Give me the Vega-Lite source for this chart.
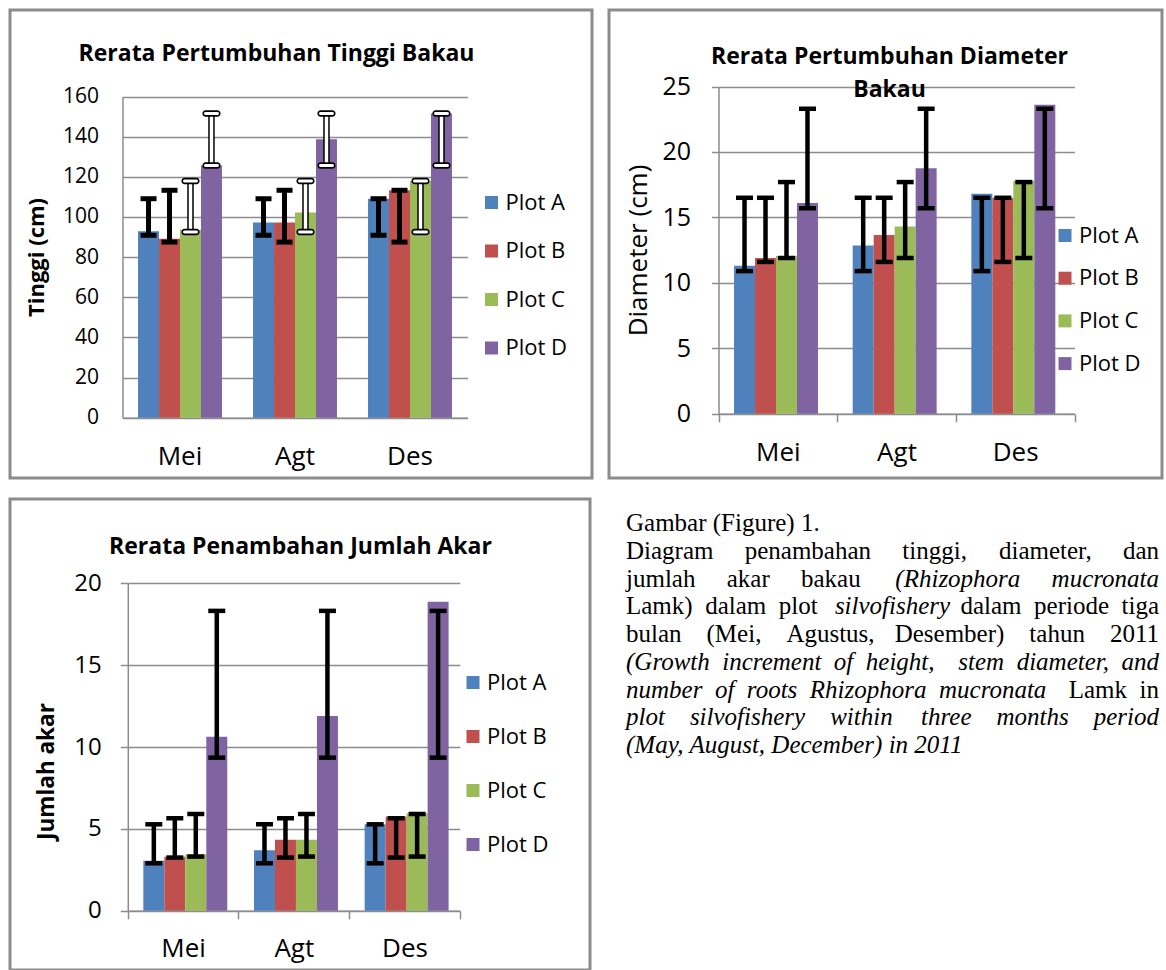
{
  "$schema": "https://vega.github.io/schema/vega-lite/v6.json",
  "background": "white",
  "padding": {"left": 8, "top": 8, "right": 0, "bottom": 0},
  "config": {
    "font": "Open Sans",
    "view": {"stroke": "#8c8c8c", "strokeWidth": 3},
    "axis": {"labelColor": "#000000", "titleColor": "#000000", "domainColor": "#8c8c8c", "gridColor": "#8c8c8c", "tickColor": "#8c8c8c", "domainWidth": 1.5, "gridWidth": 1.5, "tickWidth": 1.5, "labelFont": "Open Sans", "titleFont": "Open Sans"},
    "legend": {"labelColor": "#000000", "labelFont": "Open Sans"},
    "title": {"color": "#000000", "font": "Open Sans"}
  },
  "datasets": {
    "tinggi": [
      {"month": "Mei", "plot": "Plot A", "value": 92.9, "lo": 90.9, "hi": 109.1},
      {"month": "Mei", "plot": "Plot B", "value": 89.2, "lo": 87.5, "hi": 113.3},
      {"month": "Mei", "plot": "Plot C", "value": 93.7, "lo": 92.5, "hi": 117.9},
      {"month": "Mei", "plot": "Plot D", "value": 125.7, "lo": 125.7, "hi": 151.5},
      {"month": "Agt", "plot": "Plot A", "value": 97.2, "lo": 90.9, "hi": 109.1},
      {"month": "Agt", "plot": "Plot B", "value": 97.2, "lo": 87.5, "hi": 113.3},
      {"month": "Agt", "plot": "Plot C", "value": 102.2, "lo": 92.5, "hi": 117.9},
      {"month": "Agt", "plot": "Plot D", "value": 138.7, "lo": 125.7, "hi": 151.5},
      {"month": "Des", "plot": "Plot A", "value": 109.1, "lo": 90.9, "hi": 109.1},
      {"month": "Des", "plot": "Plot B", "value": 113.3, "lo": 87.5, "hi": 113.3},
      {"month": "Des", "plot": "Plot C", "value": 117.9, "lo": 92.5, "hi": 117.9},
      {"month": "Des", "plot": "Plot D", "value": 151.5, "lo": 125.7, "hi": 151.5}
    ],
    "diameter": [
      {"month": "Mei", "plot": "Plot A", "value": 11.3, "lo": 10.9, "hi": 16.5},
      {"month": "Mei", "plot": "Plot B", "value": 11.9, "lo": 11.6, "hi": 16.5},
      {"month": "Mei", "plot": "Plot C", "value": 12.05, "lo": 11.9, "hi": 17.7},
      {"month": "Mei", "plot": "Plot D", "value": 16.1, "lo": 15.7, "hi": 23.3},
      {"month": "Agt", "plot": "Plot A", "value": 12.85, "lo": 10.9, "hi": 16.5},
      {"month": "Agt", "plot": "Plot B", "value": 13.65, "lo": 11.6, "hi": 16.5},
      {"month": "Agt", "plot": "Plot C", "value": 14.3, "lo": 11.9, "hi": 17.7},
      {"month": "Agt", "plot": "Plot D", "value": 18.75, "lo": 15.7, "hi": 23.3},
      {"month": "Des", "plot": "Plot A", "value": 16.8, "lo": 10.9, "hi": 16.5},
      {"month": "Des", "plot": "Plot B", "value": 16.5, "lo": 11.6, "hi": 16.5},
      {"month": "Des", "plot": "Plot C", "value": 17.8, "lo": 11.9, "hi": 17.7},
      {"month": "Des", "plot": "Plot D", "value": 23.6, "lo": 15.7, "hi": 23.3}
    ],
    "akar": [
      {"month": "Mei", "plot": "Plot A", "value": 3.05, "lo": 2.9, "hi": 5.28},
      {"month": "Mei", "plot": "Plot B", "value": 3.3, "lo": 3.25, "hi": 5.65},
      {"month": "Mei", "plot": "Plot C", "value": 3.46, "lo": 3.31, "hi": 5.91},
      {"month": "Mei", "plot": "Plot D", "value": 10.63, "lo": 9.35, "hi": 18.31},
      {"month": "Agt", "plot": "Plot A", "value": 3.7, "lo": 2.9, "hi": 5.28},
      {"month": "Agt", "plot": "Plot B", "value": 4.33, "lo": 3.25, "hi": 5.65},
      {"month": "Agt", "plot": "Plot C", "value": 4.33, "lo": 3.31, "hi": 5.91},
      {"month": "Agt", "plot": "Plot D", "value": 11.9, "lo": 9.35, "hi": 18.31},
      {"month": "Des", "plot": "Plot A", "value": 5.28, "lo": 2.9, "hi": 5.28},
      {"month": "Des", "plot": "Plot B", "value": 5.75, "lo": 3.25, "hi": 5.65},
      {"month": "Des", "plot": "Plot C", "value": 5.95, "lo": 3.31, "hi": 5.91},
      {"month": "Des", "plot": "Plot D", "value": 18.86, "lo": 9.35, "hi": 18.31}
    ],
    "caption": [
      {"line": 1, "seg": "start", "lang": "id", "text": "Gambar (Figure) 1."},
      {"line": 2, "seg": "start", "lang": "id", "text": "Diagram\u00a0\u00a0\u00a0\u00a0\u00a0penambahan\u00a0\u00a0\u00a0\u00a0\u00a0tinggi,"},
      {"line": 2, "seg": "end", "lang": "id", "text": "diameter,\u00a0\u00a0\u00a0\u00a0\u00a0dan"},
      {"line": 3, "seg": "start", "lang": "id", "text": "jumlah\u00a0\u00a0\u00a0\u00a0\u00a0akar\u00a0\u00a0\u00a0\u00a0\u00a0bakau"},
      {"line": 3, "seg": "end", "lang": "la", "text": "(Rhizophora\u00a0\u00a0\u00a0\u00a0\u00a0mucronata"},
      {"line": 4, "seg": "start", "lang": "id", "text": "Lamk)\u00a0\u00a0dalam\u00a0\u00a0plot"},
      {"line": 4, "seg": "middle", "lang": "en", "text": "silvofishery"},
      {"line": 4, "seg": "end", "lang": "id", "text": "dalam\u00a0\u00a0periode\u00a0\u00a0tiga"},
      {"line": 5, "seg": "start", "lang": "id", "text": "bulan\u00a0\u00a0\u00a0\u00a0(Mei,\u00a0\u00a0\u00a0\u00a0Agustus,"},
      {"line": 5, "seg": "end", "lang": "id", "text": "Desember)\u00a0\u00a0\u00a0\u00a0tahun\u00a0\u00a0\u00a0\u00a02011"},
      {"line": 6, "seg": "start", "lang": "en", "text": "(Growth\u00a0\u00a0increment\u00a0\u00a0of\u00a0\u00a0height,"},
      {"line": 6, "seg": "end", "lang": "en", "text": "stem\u00a0\u00a0diameter,\u00a0\u00a0and"},
      {"line": 7, "seg": "start", "lang": "en", "text": "number\u00a0\u00a0of\u00a0\u00a0roots\u00a0\u00a0Rhizophora\u00a0\u00a0mucronata"},
      {"line": 7, "seg": "end", "lang": "auth", "text": "Lamk\u00a0\u00a0in"},
      {"line": 8, "seg": "start", "lang": "en", "text": "plot\u00a0\u00a0\u00a0\u00a0silvofishery\u00a0\u00a0\u00a0\u00a0within"},
      {"line": 8, "seg": "end", "lang": "en", "text": "three\u00a0\u00a0\u00a0\u00a0months\u00a0\u00a0\u00a0\u00a0period"},
      {"line": 9, "seg": "start", "lang": "en", "text": "(May, August, December) in 2011"}
    ]
  },
  "spacing": 17,
  "resolve": {"scale": {"color": "independent"}, "legend": {"color": "independent"}},
  "vconcat": [
    {
      "spacing": 13,
      "resolve": {"scale": {"color": "independent"}, "legend": {"color": "independent"}},
      "hconcat": [
        {
          "width": 582, "height": 468,
          "data": {"name": "tinggi"},
          "title": {"text": "Rerata Pertumbuhan Tinggi Bakau", "fontSize": 23, "fontWeight": "bold", "anchor": "middle", "frame": "group", "offset": 0, "baseline": "alphabetic", "dx": -24.5, "dy": 73.5},
          "encoding": {
            "x": {"field": "month", "type": "nominal", "sort": ["Mei", "Agt", "Des"], "scale": {"range": [112.5, 457.5], "paddingInner": 0, "paddingOuter": 0}, "axis": {"title": null, "orient": "bottom", "offset": -60.2, "labelAngle": 0, "labelFontSize": 26, "labelPadding": 26, "ticks": false, "tickSize": 0}},
            "xOffset": {"field": "plot", "type": "nominal", "scale": {"paddingInner": 0, "paddingOuter": 0.74}}
          },
          "layer": [
            {
              "mark": {"type": "bar"},
              "encoding": {
                "y": {"field": "value", "type": "quantitative", "scale": {"domain": [0, 160], "range": [407.8, 86.5], "nice": false}, "axis": {"orient": "left", "offset": -112.5, "values": [0, 20, 40, 60, 80, 100, 120, 140, 160], "grid": true, "ticks": false, "tickSize": 0, "labelPadding": 24, "labelFontSize": 21, "title": "Tinggi (cm)", "titleFontSize": 22, "titleFontWeight": "bold", "titleAngle": -90, "titleX": -86, "titleY": 247, "titleAlign": "center", "titleBaseline": "middle"}},
                "color": {"field": "plot", "type": "nominal", "scale": {"domain": ["Plot A", "Plot B", "Plot C", "Plot D"], "range": ["#4F81BD", "#C0504D", "#9BBB59", "#8064A2"]}, "legend": {"orient": "none", "legendX": 470.5, "legendY": 181.5, "title": null, "symbolType": "square", "symbolSize": 169, "symbolStrokeWidth": 0, "labelFontSize": 22, "rowPadding": 26.5, "labelOffset": 3}}
              }
            },
            {"transform": [{"filter": "datum.plot === 'Plot A' || datum.plot === 'Plot B'"}], "mark": {"type": "rule", "color": "#000000", "strokeWidth": 5}, "encoding": {"y": {"field": "lo", "type": "quantitative"}, "y2": {"field": "hi"}}},
            {"transform": [{"filter": "datum.plot === 'Plot A' || datum.plot === 'Plot B'"}], "mark": {"type": "tick", "color": "#000000", "opacity": 1, "thickness": 5, "size": 16}, "encoding": {"y": {"field": "lo", "type": "quantitative"}}},
            {"transform": [{"filter": "datum.plot === 'Plot A' || datum.plot === 'Plot B'"}], "mark": {"type": "tick", "color": "#000000", "opacity": 1, "thickness": 5, "size": 16}, "encoding": {"y": {"field": "hi", "type": "quantitative"}}},
            {"transform": [{"filter": "datum.plot === 'Plot C' || datum.plot === 'Plot D'"}], "mark": {"type": "rule", "color": "#000000", "strokeWidth": 6.5}, "encoding": {"y": {"field": "lo", "type": "quantitative"}, "y2": {"field": "hi"}}},
            {"transform": [{"filter": "datum.plot === 'Plot C' || datum.plot === 'Plot D'"}], "mark": {"type": "rule", "color": "#ffffff", "strokeWidth": 3.5}, "encoding": {"y": {"field": "lo", "type": "quantitative"}, "y2": {"field": "hi"}}},
            {"transform": [{"filter": "datum.plot === 'Plot C' || datum.plot === 'Plot D'"}], "mark": {"type": "tick", "color": "#000000", "opacity": 1, "thickness": 6.5, "size": 18, "cornerRadius": 3}, "encoding": {"y": {"field": "lo", "type": "quantitative"}}},
            {"transform": [{"filter": "datum.plot === 'Plot C' || datum.plot === 'Plot D'"}], "mark": {"type": "tick", "color": "#000000", "opacity": 1, "thickness": 6.5, "size": 18, "cornerRadius": 3}, "encoding": {"y": {"field": "hi", "type": "quantitative"}}},
            {"transform": [{"filter": "datum.plot === 'Plot C' || datum.plot === 'Plot D'"}], "mark": {"type": "tick", "color": "#ffffff", "opacity": 1, "thickness": 3, "size": 15, "cornerRadius": 1.5}, "encoding": {"y": {"field": "lo", "type": "quantitative"}}},
            {"transform": [{"filter": "datum.plot === 'Plot C' || datum.plot === 'Plot D'"}], "mark": {"type": "tick", "color": "#ffffff", "opacity": 1, "thickness": 3, "size": 15, "cornerRadius": 1.5}, "encoding": {"y": {"field": "hi", "type": "quantitative"}}}
          ]
        },
        {
          "width": 553, "height": 468,
          "data": {"name": "diameter"},
          "title": {"text": ["Rerata Pertumbuhan Diameter", "Bakau"], "fontSize": 23, "fontWeight": "bold", "anchor": "middle", "frame": "group", "offset": 0, "baseline": "alphabetic", "lineHeight": 33, "dx": 4, "dy": 109.5},
          "encoding": {
            "x": {"field": "month", "type": "nominal", "sort": ["Mei", "Agt", "Des"], "scale": {"range": [109.5, 465.5], "paddingInner": 0, "paddingOuter": 0}, "axis": {"title": null, "orient": "bottom", "offset": -64.2, "labelAngle": 0, "labelFontSize": 26, "labelPadding": 18, "tickSize": 8, "tickBand": "extent"}},
            "xOffset": {"field": "plot", "type": "nominal", "scale": {"paddingInner": 0, "paddingOuter": 0.74}}
          },
          "layer": [
            {
              "mark": {"type": "bar"},
              "encoding": {
                "y": {"field": "value", "type": "quantitative", "scale": {"domain": [0, 25], "range": [403.8, 76.5], "nice": false}, "axis": {"orient": "left", "offset": -109.5, "values": [0, 5, 10, 15, 20, 25], "grid": true, "tickSize": 7, "labelPadding": 21, "labelFontSize": 25, "title": "Diameter (cm)", "titleFontSize": 26, "titleFontWeight": "normal", "titleAngle": -90, "titleX": -80, "titleY": 240, "titleAlign": "center", "titleBaseline": "middle"}},
                "color": {"field": "plot", "type": "nominal", "scale": {"domain": ["Plot A", "Plot B", "Plot C", "Plot D"], "range": ["#4F81BD", "#C0504D", "#9BBB59", "#8064A2"]}, "legend": {"orient": "none", "legendX": 445, "legendY": 214.5, "title": null, "symbolType": "square", "symbolSize": 169, "symbolStrokeWidth": 0, "labelFontSize": 22, "rowPadding": 20.7, "labelOffset": 3}}
              }
            },
            {"mark": {"type": "rule", "color": "#000000", "strokeWidth": 4.5}, "encoding": {"y": {"field": "lo", "type": "quantitative"}, "y2": {"field": "hi"}}},
            {"mark": {"type": "tick", "color": "#000000", "opacity": 1, "thickness": 4.5, "size": 17}, "encoding": {"y": {"field": "lo", "type": "quantitative"}}},
            {"mark": {"type": "tick", "color": "#000000", "opacity": 1, "thickness": 4.5, "size": 17}, "encoding": {"y": {"field": "hi", "type": "quantitative"}}}
          ]
        }
      ]
    },
    {
      "spacing": 34,
      "resolve": {"scale": {"color": "independent"}, "legend": {"color": "independent"}},
      "hconcat": [
        {
          "width": 580, "height": 471,
          "data": {"name": "akar"},
          "title": {"text": "Rerata Penambahan Jumlah Akar", "fontSize": 23, "fontWeight": "bold", "anchor": "middle", "frame": "group", "offset": 0, "baseline": "alphabetic", "dx": 0.5, "dy": 77.5},
          "encoding": {
            "x": {"field": "month", "type": "nominal", "sort": ["Mei", "Agt", "Des"], "scale": {"range": [117.8, 449.8], "paddingInner": 0, "paddingOuter": 0}, "axis": {"title": null, "orient": "bottom", "offset": -59.2, "labelAngle": 0, "labelFontSize": 26, "labelPadding": 17, "tickSize": 8, "tickBand": "extent"}},
            "xOffset": {"field": "plot", "type": "nominal", "scale": {"paddingInner": 0, "paddingOuter": 0.74}}
          },
          "layer": [
            {
              "mark": {"type": "bar"},
              "encoding": {
                "y": {"field": "value", "type": "quantitative", "scale": {"domain": [0, 20], "range": [411.8, 84.2], "nice": false}, "axis": {"orient": "left", "offset": -117.8, "values": [0, 5, 10, 15, 20], "grid": true, "tickSize": 7.5, "labelPadding": 19, "labelFontSize": 24, "title": "Jumlah akar", "titleFontSize": 22.5, "titleFontWeight": "bold", "titleAngle": -90, "titleX": -81.3, "titleY": 272, "titleAlign": "center", "titleBaseline": "middle"}},
                "color": {"field": "plot", "type": "nominal", "scale": {"domain": ["Plot A", "Plot B", "Plot C", "Plot D"], "range": ["#4F81BD", "#C0504D", "#9BBB59", "#8064A2"]}, "legend": {"orient": "none", "legendX": 452, "legendY": 172.5, "title": null, "symbolType": "square", "symbolSize": 169, "symbolStrokeWidth": 0, "labelFontSize": 22, "rowPadding": 32, "labelOffset": 3}}
              }
            },
            {"mark": {"type": "rule", "color": "#000000", "strokeWidth": 4.5}, "encoding": {"y": {"field": "lo", "type": "quantitative"}, "y2": {"field": "hi"}}},
            {"mark": {"type": "tick", "color": "#000000", "opacity": 1, "thickness": 4.5, "size": 17}, "encoding": {"y": {"field": "lo", "type": "quantitative"}}},
            {"mark": {"type": "tick", "color": "#000000", "opacity": 1, "thickness": 4.5, "size": 17}, "encoding": {"y": {"field": "hi", "type": "quantitative"}}}
          ]
        },
        {
          "width": 533, "height": 300,
          "view": {"fill": "white", "stroke": null},
          "data": {"name": "caption"},
          "encoding": {
            "x": {"field": "seg", "type": "nominal", "scale": {"type": "point", "domain": ["start", "middle", "end"], "range": [0, 533], "padding": 0}, "axis": null},
            "y": {"field": "line", "type": "quantitative", "scale": {"domain": [1, 9], "range": [32, 254]}, "axis": null},
            "text": {"field": "text"}
          },
          "layer": [
            {"transform": [{"filter": "datum.seg === 'start' && (datum.lang === 'id' || datum.lang === 'auth')"}], "mark": {"type": "text", "align": "left", "baseline": "alphabetic", "font": "Liberation Serif", "fontSize": 25, "fontStyle": "normal", "color": "#000000"}},
            {"transform": [{"filter": "datum.seg === 'start' && (datum.lang === 'en' || datum.lang === 'la')"}], "mark": {"type": "text", "align": "left", "baseline": "alphabetic", "font": "Liberation Serif", "fontSize": 25, "fontStyle": "italic", "color": "#000000"}},
            {"transform": [{"filter": "datum.seg === 'middle' && (datum.lang === 'id' || datum.lang === 'auth')"}], "mark": {"type": "text", "align": "center", "baseline": "alphabetic", "font": "Liberation Serif", "fontSize": 25, "fontStyle": "normal", "color": "#000000"}},
            {"transform": [{"filter": "datum.seg === 'middle' && (datum.lang === 'en' || datum.lang === 'la')"}], "mark": {"type": "text", "align": "center", "baseline": "alphabetic", "font": "Liberation Serif", "fontSize": 25, "fontStyle": "italic", "color": "#000000"}},
            {"transform": [{"filter": "datum.seg === 'end' && (datum.lang === 'id' || datum.lang === 'auth')"}], "mark": {"type": "text", "align": "right", "baseline": "alphabetic", "font": "Liberation Serif", "fontSize": 25, "fontStyle": "normal", "color": "#000000"}},
            {"transform": [{"filter": "datum.seg === 'end' && (datum.lang === 'en' || datum.lang === 'la')"}], "mark": {"type": "text", "align": "right", "baseline": "alphabetic", "font": "Liberation Serif", "fontSize": 25, "fontStyle": "italic", "color": "#000000"}}
          ]
        }
      ]
    }
  ]
}
